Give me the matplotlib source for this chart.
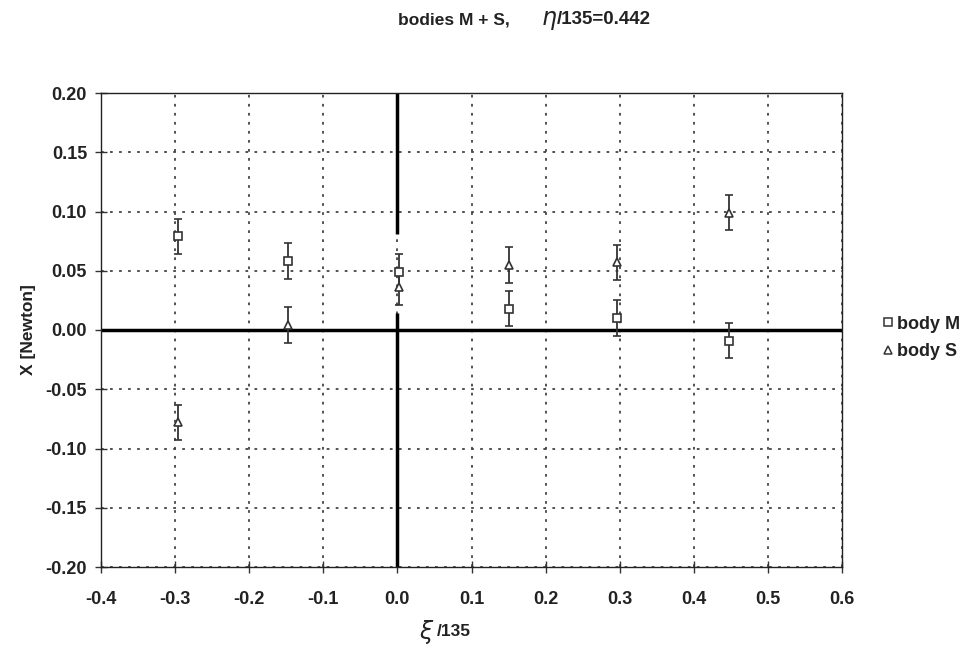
import matplotlib
matplotlib.use("Agg")
import matplotlib.pyplot as plt
from matplotlib.lines import Line2D

# Data
xi_M = [-0.296, -0.148, 0.002, 0.150, 0.297, 0.447]
X_M = [0.079, 0.058, 0.049, 0.018, 0.010, -0.009]
err_M = [0.015, 0.015, 0.015, 0.015, 0.015, 0.015]

xi_S = [-0.296, -0.148, 0.002, 0.150, 0.297, 0.447]
X_S = [-0.078, 0.004, 0.036, 0.055, 0.057, 0.099]
err_S = [0.015, 0.015, 0.015, 0.015, 0.015, 0.015]

xticks = [-0.4, -0.3, -0.2, -0.1, 0.0, 0.1, 0.2, 0.3, 0.4, 0.5, 0.6]
yticks = [-0.20, -0.15, -0.10, -0.05, 0.00, 0.05, 0.10, 0.15, 0.20]

plt.rcParams['font.family'] = ['Liberation Sans', 'DejaVu Sans']
tc = '#222222'

W, H = 971, 649
fig = plt.figure(figsize=(W / 100, H / 100), dpi=100)
L, R, T, B = 101, 842, 93, 567
ax = fig.add_axes([L / W, 1 - B / H, (R - L) / W, (B - T) / H])
ax.set_xlim(-0.4, 0.6)
ax.set_ylim(-0.2, 0.2)
ax.set_xticks(xticks)
ax.set_yticks(yticks)
ax.set_xticklabels([f"{v:.1f}" for v in xticks], fontsize=13, fontweight='bold', color=tc)
ax.set_yticklabels([f"{v:.2f}" for v in yticks], fontsize=13, fontweight='bold', color=tc)
ax.tick_params(direction='inout', length=8, width=1, color='#333')
ax.tick_params(axis='x', pad=13)
ax.tick_params(axis='y', pad=6)

ax.grid(True, linestyle=(0, (1.5, 3.5)), color='#444', linewidth=1.3)
ax.set_axisbelow(True)
for s in ax.spines.values():
    s.set_linewidth(1.0)
    s.set_color('#222')

# thick zero lines
ax.axhline(0, color='black', linewidth=2.5, zorder=2)
ax.plot([0, 0], [-0.2, 0.014], color='black', linewidth=2.5, zorder=2, solid_capstyle='butt')
ax.plot([0, 0], [0.081, 0.2], color='black', linewidth=2.5, zorder=2, solid_capstyle='butt')

c = '#333333'
ax.errorbar(xi_M, X_M, yerr=err_M, fmt='s', ms=5.5, mfc='white', mec=c, mew=1.2,
            ecolor=c, elinewidth=1.3, capsize=3.2, capthick=1.3, zorder=4)
ax.errorbar(xi_S, X_S, yerr=err_S, fmt='^', ms=6, mfc='white', mec=c, mew=1.2,
            ecolor=c, elinewidth=1.3, capsize=3.2, capthick=1.3, zorder=4)

# axis labels
fig.text(29 / W, 1 - 330 / H, 'X [Newton]', rotation=90, fontsize=12.5, fontweight='bold',
         ha='center', va='center', color=tc)
fig.text(434 / W, 1 - 632 / H, r'$\xi$', fontsize=17, ha='right', va='center',
         family='DejaVu Serif', style='italic', color=tc)
fig.text(437 / W, 1 - 632 / H, '/135', fontsize=12.5, fontweight='bold', ha='left',
         va='center', color=tc)

# title
fig.text(510 / W, 1 - 20 / H, 'bodies M + S,', fontsize=12.5, fontweight='bold',
         ha='right', va='center', color=tc)
fig.text(541 / W, 1 - 20 / H, r'$\eta$', fontsize=17, ha='left', va='center',
         family='DejaVu Serif', color=tc)
fig.text(557 / W, 1 - 20 / H, '/135=0.442', fontsize=13.5, fontweight='bold',
         ha='left', va='center', color=tc)

handles = [Line2D([], [], marker='s', ls='none', ms=6, mfc='white', mec=c, mew=1.1),
           Line2D([], [], marker='^', ls='none', ms=6, mfc='white', mec=c, mew=1.1)]
fig.legend(handles, ['body M', 'body S'], loc='center left',
           bbox_to_anchor=(881 / W, 1 - 338 / H), frameon=False,
           handletextpad=0.1, handlelength=0.8, labelspacing=0.6, borderpad=0,
           borderaxespad=0, prop={'size': 13, 'weight': 'bold'}, labelcolor=tc)

fig.savefig('out.png', dpi=100)
